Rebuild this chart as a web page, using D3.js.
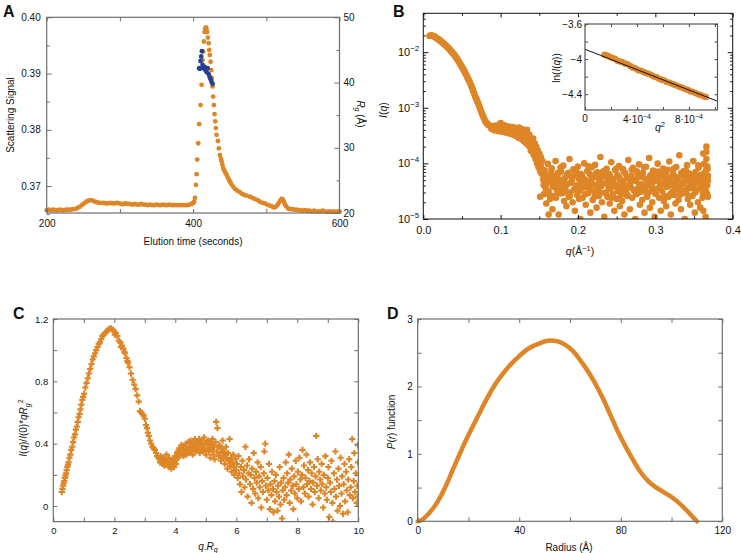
<!DOCTYPE html>
<html><head><meta charset="utf-8">
<script src="https://cdnjs.cloudflare.com/ajax/libs/d3/7.8.5/d3.min.js"></script>
<style>body{margin:0;background:#fff}svg text{font-family:"Liberation Sans",Arial,Helvetica,sans-serif;fill:#111}</style>
</head><body><svg id="c" width="741" height="553"></svg>
<script>
// ---------------- DATA ----------------
// Panel A: elution profile (time s, scattering signal)
const elutionTime=[200,203,206,209,212,215,218,221,224,227,230,233,236,239,242,245,248,251,254,257,260,263,266,269,272,275,278,281,284,287,290,293,296,299,302,305,308,311,314,317,320,323,326,329,332,335,338,341,344,347,350,353,356,359,362,365,368,371,374,377,380,383,386,389,392,395,398,400,401.5,402.5,403.8,404.8,405.6,407,408.3,410.2,411.6,413,413.8,414.7,415.7,416.5,417.5,418.2,419.2,420.2,421.2,422,422.9,423.9,424.7,425.7,426.6,427.4,428.4,429.3,430.2,431.1,432,433.9,435.2,436.6,438,438.9,440,441.1,442.5,444,445.7,447.5,449,450.2,452,454.7,457,460,463.9,467,470,473,477.6,481,484,488,491.2,495,498,501,504.9,507,510,513,515,517,519,521,522.5,524,525.3,527,529.8,532,535,538,541.3,544,547,550,553,556,559,562,565,568,571,574,577,580,583,586,589,592,595,598,600];
const scatterSignal=[.3657,.3658,.3657,.3658,.3657,.3657,.3658,.3657,.3657,.3658,.3658,.3658,.3659,.3659,.3661,.3663,.3666,.3669,.3672,.3674,.3675,.3674,.3672,.3671,.3670,.3670,.3670,.3669,.3669,.3670,.3669,.3669,.3670,.3669,.3668,.3668,.3669,.3668,.3668,.3667,.3668,.3667,.3667,.3668,.3667,.3667,.3666,.3667,.3666,.3666,.3667,.3666,.3666,.3667,.3666,.3666,.3667,.3666,.3666,.3666,.3666,.3666,.3666,.3666,.3666,.3667,.3668,.3670,.3672,.3679,.3702,.3721,.3747,.3776,.3810,.3844,.3880,.3924,.3939,.3957,.3974,.3980,.3982,.3980,.3974,.3964,.3954,.3942,.3933,.3921,.3906,.3892,.3877,.3859,.3844,.3828,.3815,.3803,.3791,.3780,.3767,.3755,.3748,.3744,.3738,.3732,.3728,.3724,.3720,.3715,.3711,.3708,.3704,.3699,.3695,.3692,.3689,.3686,.3684,.3683,.3681,.3679,.3677,.3675,.3672,.3670,.3669,.3667,.3665,.3664,.3662,.3663,.3666,.3670,.3674,.3677,.3676,.3672,.3668,.3664,.3660,.3659,.3659,.3658,.3658,.3657,.3657,.3656,.3657,.3656,.3656,.3655,.3656,.3655,.3655,.3655,.3656,.3655,.3654,.3655,.3654,.3655,.3654,.3655,.3654];
// Panel A: Rg across the peak (time s, Rg Å)
const rgTime=[408.3,409.3,410.2,411.1,412,413,414.3,415.7,417,418.4,419.8,421.2,422.5,423.9,425.2,426.6];
const rgValue=[42.2,42.1,43.3,44.0,44.8,42.7,42.2,42.4,41.9,41.6,42.2,41.3,40.9,40.5,40.1,39.8];

// Panel B: scattering curve [q (1/Å), I(q)]
const saxsLow=[[.008,.0195],[.009,.0198],[.010,.0199],[.011,.0199],[.012,.0197],[.013,.0195],[.014,.0192],[.015,.0188],[.016,.0184],[.017,.0180],[.018,.0176],[.019,.0172],[.020,.0168],[.021,.0164],[.022,.0160],[.023,.0156],[.024,.0152],[.025,.0148],[.026,.0144],[.027,.0140],[.028,.0136],[.029,.0132],[.030,.0128],[.031,.0124],[.032,.0120],[.033,.0116],[.034,.0112],[.035,.0108],[.036,.0104],[.037,.0100],[.038,.0097],[.039,.0093],[.040,.0090],[.041,.0086],[.042,.0082],[.043,.0078],[.044,.0075],[.045,.0071],[.046,.0067],[.047,.0064],[.048,.0060],[.049,.0057],[.050,.0054],[.051,.0051],[.052,.0049],[.053,.0046],[.054,.0043],[.055,.0040],[.056,.0038],[.057,.0035],[.058,.0033],[.059,.0031],[.060,.0029],[.061,.0027],[.062,.0025],[.063,.0023],[.064,.0021],[.065,.0019],[.066,.0018],[.067,.0016],[.068,.0015],[.069,.0014],[.070,.0013],[.071,.0012],[.072,.0011],[.073,.00100],[.074,.00092],[.075,.00085],[.076,.00078],[.077,.00072],[.078,.00067],[.079,.00062],[.080,.00058],[.081,.00055],[.082,.00053],[.083,.00051],[.084,.00049]];
const saxsMid=[[.086,4.8e-4],[.087,4.6e-4],[.088,4.5e-4],[.088,4.2e-4],[.089,4.4e-4],[.090,4.7e-4],[.090,4.1e-4],[.091,4.3e-4],[.092,4.6e-4],[.092,3.9e-4],[.093,4.4e-4],[.094,4.8e-4],[.094,4.0e-4],[.095,4.3e-4],[.096,4.1e-4],[.097,4.6e-4],[.097,3.8e-4],[.098,4.4e-4],[.099,5.0e-4],[.099,4.0e-4],[.100,5.3e-4],[.100,4.3e-4],[.101,3.7e-4],[.102,4.6e-4],[.102,4.1e-4],[.103,3.8e-4],[.104,4.5e-4],[.104,4.9e-4],[.105,3.9e-4],[.106,4.3e-4],[.106,3.6e-4],[.107,4.7e-4],[.108,4.0e-4],[.108,3.7e-4],[.109,4.4e-4],[.110,4.1e-4],[.110,3.5e-4],[.111,4.6e-4],[.112,3.9e-4],[.112,4.2e-4],[.113,3.4e-4],[.114,4.4e-4],[.114,3.8e-4],[.115,4.1e-4],[.116,3.3e-4],[.116,4.5e-4],[.117,3.7e-4],[.118,4.0e-4],[.118,3.2e-4],[.119,4.3e-4],[.120,3.6e-4],[.120,3.1e-4],[.121,4.1e-4],[.122,3.4e-4],[.122,3.8e-4],[.123,2.9e-4],[.124,4.4e-4],[.124,3.3e-4],[.125,3.6e-4],[.126,2.8e-4],[.126,3.9e-4],[.127,3.2e-4],[.128,4.1e-4],[.128,2.7e-4],[.129,3.4e-4],[.130,3.0e-4],[.130,2.5e-4],[.131,3.6e-4],[.132,2.7e-4],[.132,3.2e-4],[.133,2.3e-4],[.134,4.0e-4],[.134,2.6e-4],[.135,3.0e-4],[.136,2.1e-4],[.136,2.7e-4],[.137,3.3e-4],[.138,2.0e-4],[.138,2.4e-4],[.139,1.7e-4],[.140,2.8e-4],[.140,2.1e-4],[.141,1.6e-4],[.142,2.8e-4],[.142,1.9e-4],[.143,1.4e-4],[.144,2.3e-4],[.144,1.6e-4],[.145,1.2e-4],[.146,2.0e-4],[.146,1.4e-4],[.147,1.0e-4],[.148,1.7e-4],[.148,1.2e-4],[.149,8.5e-5],[.150,1.5e-4],[.150,1.0e-4],[.151,7.2e-5],[.151,2.5e-5],[.152,1.3e-4],[.152,8.8e-5],[.153,6.5e-5],[.154,1.1e-4],[.154,7.5e-5]];
const saxsHigh=[[.155,5.2e-5],[.156,2.8e-5],[.157,7.5e-5],[.158,3.6e-5],[.159,1.9e-5],[.160,4.4e-5],[.161,9.8e-5],[.162,1.2e-5],[.162,3.1e-5],[.163,6.0e-5],[.164,2.3e-5],[.165,4.9e-5],[.166,8.2e-5],[.167,1.5e-5],[.168,3.8e-5],[.169,5.7e-5],[.170,2.6e-5],[.171,1.1e-4],[.172,4.1e-5],[.173,3.3e-5],[.174,6.8e-5],[.175,1.2e-5],[.176,5.0e-5],[.177,2.9e-5],[.178,7.1e-5],[.179,4.6e-5],[.180,3.5e-5],[.181,9.1e-5],[.182,2.1e-5],[.183,5.5e-5],[.184,3.9e-5],[.185,1.7e-5],[.186,6.3e-5],[.187,4.3e-5],[.188,2.5e-5],[.189,1.2e-4],[.190,3.0e-5],[.191,5.9e-5],[.192,4.8e-5],[.193,2.0e-5],[.194,7.8e-5],[.195,3.4e-5],[.196,1.4e-5],[.197,6.6e-5],[.198,4.0e-5],[.199,2.7e-5],[.200,8.8e-5],[.201,5.3e-5],[.202,3.2e-5],[.203,1.0e-5],[.204,4.7e-5],[.205,6.1e-5],[.206,2.4e-5],[.207,3.7e-5],[.208,1.0e-4],[.209,5.1e-5],[.210,1.8e-5],[.211,4.2e-5],[.212,7.3e-5],[.213,2.9e-5],[.214,3.6e-5],[.215,6.5e-5],[.216,1.3e-5],[.217,4.5e-5],[.218,8.5e-5],[.219,2.2e-5],[.220,5.6e-5],[.221,3.1e-5],[.222,9.4e-5],[.223,4.0e-5],[.224,1.6e-5],[.225,6.9e-5],[.226,3.3e-5],[.227,2.6e-5],[.228,5.4e-5],[.229,1.3e-4],[.230,3.9e-5],[.231,2.0e-5],[.232,7.0e-5],[.233,4.4e-5],[.234,1.1e-5],[.235,5.8e-5],[.236,3.0e-5],[.237,8.0e-5],[.238,2.5e-5],[.239,4.9e-5],[.240,6.4e-5],[.241,1.9e-5],[.242,3.5e-5],[.243,1.05e-4],[.244,4.6e-5],[.245,2.8e-5],[.246,5.2e-5],[.247,1.4e-5],[.248,7.6e-5],[.249,3.8e-5],[.250,2.3e-5],[.251,6.2e-5],[.252,4.1e-5],[.253,9.0e-5],[.254,1.7e-5],[.255,5.0e-5],[.256,3.4e-5],[.257,2.1e-5],[.258,7.9e-5],[.259,4.3e-5],[.260,1.2e-5],[.261,6.7e-5],[.262,3.1e-5],[.263,5.5e-5],[.264,2.7e-5],[.265,1.15e-4],[.266,4.0e-5],[.267,1.5e-5],[.268,3.7e-5],[.269,6.0e-5],[.270,2.4e-5],[.271,8.3e-5],[.272,5.1e-5],[.273,3.2e-5],[.274,1.0e-5],[.275,4.8e-5],[.276,7.2e-5],[.277,2.9e-5],[.278,3.6e-5],[.279,9.6e-5],[.280,1.8e-5],[.281,5.7e-5],[.282,4.2e-5],[.283,2.2e-5],[.284,6.8e-5],[.285,3.3e-5],[.286,1.3e-5],[.287,5.3e-5],[.288,8.7e-5],[.289,2.6e-5],[.290,4.5e-5],[.291,3.0e-5],[.292,1.25e-4],[.293,1.6e-5],[.294,5.9e-5],[.295,3.9e-5],[.296,2.0e-5],[.297,7.4e-5],[.298,4.7e-5],[.299,1.1e-5],[.300,6.3e-5],[.301,2.8e-5],[.302,3.5e-5],[.303,9.9e-5],[.304,5.0e-5],[.305,2.4e-5],[.306,4.1e-5],[.307,1.4e-5],[.308,6.9e-5],[.309,3.2e-5],[.310,8.1e-5],[.311,2.1e-5],[.312,5.4e-5],[.313,4.4e-5],[.314,1.7e-5],[.315,3.8e-5],[.316,7.7e-5],[.317,2.5e-5],[.318,1.08e-4],[.319,4.0e-5],[.320,1.2e-5],[.321,5.8e-5],[.322,3.1e-5],[.323,6.5e-5],[.324,2.7e-5],[.325,4.6e-5],[.326,1.9e-5],[.327,8.6e-5],[.328,3.4e-5],[.329,5.2e-5],[.330,2.2e-5],[.331,1.4e-4],[.332,3.7e-5],[.333,1.5e-5],[.334,6.1e-5],[.335,4.3e-5],[.336,2.9e-5],[.337,7.3e-5],[.338,1.0e-5],[.339,5.6e-5],[.340,3.0e-5],[.341,9.3e-5],[.342,2.3e-5],[.343,4.8e-5],[.344,6.6e-5],[.345,1.8e-5],[.346,3.6e-5],[.347,5.1e-5],[.348,2.6e-5],[.349,1.1e-4],[.350,4.2e-5],[.351,1.3e-5],[.352,7.0e-5],[.353,3.3e-5],[.354,5.7e-5],[.355,2.0e-5],[.356,8.4e-5],[.357,4.5e-5],[.358,1.6e-5],[.359,6.2e-5],[.360,3.9e-5],[.361,2.4e-5],[.362,1.5e-4],[.363,5.0e-5],[.364,3.1e-5],[.365,1.1e-5],[.366,7.8e-5],[.367,4.0e-5],[.367,2.8e-5],[.366,2.0e-4],[.365,6.4e-5],[.364,3.5e-5],[.363,9.7e-5],[.362,1.4e-5],[.361,5.3e-5],[.366,1.2e-4],[.368,2.5e-5],[.368,4.9e-5],[.367,8.9e-5],[.365,3.2e-5],[.366,1.6e-4],[.368,6.0e-5]];
const saxsHigh2=[[.1555,4.1e-5],[.1575,6.2e-5],[.1595,3.3e-5],[.1615,5.4e-5],[.1635,2.7e-5],[.1655,7.0e-5],[.1675,3.9e-5],[.1695,4.8e-5],[.1715,2.4e-5],[.1735,6.1e-5],[.1755,3.6e-5],[.1775,8.4e-5],[.1795,2.9e-5],[.1815,5.0e-5],[.1835,4.3e-5],[.1855,3.1e-5],[.1875,6.8e-5],[.1895,2.6e-5],[.1915,4.5e-5],[.1935,5.8e-5],[.1955,3.4e-5],[.1975,7.6e-5],[.1995,4.0e-5],[.2015,2.3e-5],[.2035,6.4e-5],[.2055,3.8e-5],[.2075,5.2e-5],[.2095,2.8e-5],[.2115,4.6e-5],[.2135,8.9e-5],[.2155,3.5e-5],[.2175,5.6e-5],[.2195,4.2e-5],[.2215,2.5e-5],[.2235,6.6e-5],[.2255,3.7e-5],[.2275,4.9e-5],[.2295,3.0e-5],[.2315,5.9e-5],[.2335,7.3e-5],[.2355,2.9e-5],[.2375,4.4e-5],[.2395,3.6e-5],[.2415,6.0e-5],[.2435,2.4e-5],[.2455,5.1e-5],[.2475,4.0e-5],[.2495,8.1e-5],[.2515,3.2e-5],[.2535,5.5e-5],[.2555,2.7e-5],[.2575,4.7e-5],[.2595,6.9e-5],[.2615,3.9e-5],[.2635,2.6e-5],[.2655,5.3e-5],[.2675,4.3e-5],[.2695,7.7e-5],[.2715,3.4e-5],[.2735,5.0e-5],[.2755,2.8e-5],[.2775,6.3e-5],[.2795,4.1e-5],[.2815,3.1e-5],[.2835,5.7e-5],[.2855,8.5e-5],[.2875,3.8e-5],[.2895,2.5e-5],[.2915,4.6e-5],[.2935,6.1e-5],[.2955,3.3e-5],[.2975,5.4e-5],[.2995,2.9e-5],[.3015,4.9e-5],[.3035,7.1e-5],[.3055,3.6e-5],[.3075,5.8e-5],[.3095,4.2e-5],[.3115,2.6e-5],[.3135,6.5e-5],[.3155,3.9e-5],[.3175,5.1e-5],[.3195,2.8e-5],[.3215,4.4e-5],[.3235,8.0e-5],[.3255,3.5e-5],[.3275,5.6e-5],[.3295,4.0e-5],[.3315,2.7e-5],[.3335,6.7e-5],[.3355,3.2e-5],[.3375,4.8e-5],[.3395,7.4e-5],[.3415,3.7e-5],[.3435,2.5e-5],[.3455,5.3e-5],[.3475,4.1e-5],[.3495,6.2e-5],[.3515,3.0e-5],[.3535,4.7e-5],[.3555,9.2e-5],[.3575,3.6e-5],[.3595,5.5e-5],[.3615,2.9e-5],[.3635,6.8e-5],[.3655,4.3e-5],[.3675,7.9e-5]];
// Panel B inset: Guinier plot [q^2, ln I(q)] and fitted line end points
const guinier=[[1.5e-4,-3.950],[1.7e-4,-3.958],[1.9e-4,-3.972],[2.1e-4,-3.988],[2.3e-4,-3.996],[2.5e-4,-4.018],[2.7e-4,-4.027],[2.9e-4,-4.036],[3.1e-4,-4.052],[3.3e-4,-4.060],[3.5e-4,-4.082],[3.7e-4,-4.098],[3.9e-4,-4.106],[4.1e-4,-4.126],[4.3e-4,-4.132],[4.5e-4,-4.146],[4.7e-4,-4.160],[4.9e-4,-4.166],[5.1e-4,-4.182],[5.3e-4,-4.198],[5.5e-4,-4.206],[5.7e-4,-4.224],[5.9e-4,-4.236],[6.1e-4,-4.242],[6.3e-4,-4.262],[6.5e-4,-4.268],[6.7e-4,-4.282],[6.9e-4,-4.292],[7.1e-4,-4.305],[7.3e-4,-4.318],[7.5e-4,-4.326],[7.7e-4,-4.342],[7.9e-4,-4.350],[8.1e-4,-4.366],[8.3e-4,-4.374],[8.5e-4,-4.386],[8.7e-4,-4.400],[8.9e-4,-4.408],[9.1e-4,-4.424],[9.3e-4,-4.432]];
const guinierFit=[[0,-3.888],[1.02e-3,-4.48]];

// Panel C: dimensionless Kratky plot [q.Rg, I(q)/I(0)*(qRg)^2]
const kratky=[[.28,.09],[.30,.11],[.32,.13],[.34,.145],[.36,.16],[.38,.18],[.40,.195],[.42,.21],[.44,.23],[.46,.25],[.48,.265],[.50,.28],[.53,.31],[.56,.33],[.59,.36],[.62,.38],[.65,.41],[.68,.44],[.71,.46],[.74,.49],[.77,.51],[.80,.54],[.83,.57],[.86,.59],[.89,.62],[.92,.65],[.95,.68],[.98,.70],[1.01,.72],[1.05,.76],[1.09,.79],[1.13,.82],[1.17,.85],[1.21,.88],[1.25,.91],[1.29,.94],[1.33,.96],[1.37,.98],[1.41,1.00],[1.45,1.02],[1.49,1.04],[1.53,1.05],[1.57,1.07],[1.61,1.09],[1.65,1.10],[1.70,1.11],[1.75,1.12],[1.80,1.13],[1.85,1.14],[1.90,1.14],[1.95,1.13],[2.00,1.12],[2.02,1.10],[2.05,1.11],[2.10,1.09],[2.15,1.06],[2.20,1.05],[2.22,1.02],[2.25,1.03],[2.30,1.01],[2.33,.99],[2.35,.98],[2.40,.95],[2.43,.93],[2.45,.92],[2.50,.89],[2.55,.85],[2.60,.81],[2.65,.78],[2.70,.75],[2.75,.71],[2.80,.67],[2.84,.61],[2.88,.60],[2.92,.59],[2.96,.58],[3.00,.56],[3.04,.52],[3.07,.50],[3.10,.47],[3.13,.45],[3.17,.42],[3.21,.40],[3.25,.38],[3.29,.37],[3.33,.36],[3.37,.34],[3.41,.32],[3.45,.31],
[3.48,.30],[3.50,.28],[3.52,.32],[3.55,.29],[3.57,.27],[3.60,.31],[3.62,.29],[3.64,.26],[3.67,.30],[3.69,.28],[3.71,.33],[3.74,.27],[3.76,.29],[3.78,.25],[3.80,.31],[3.83,.27],[3.85,.29],[3.87,.24],[3.89,.28],[3.92,.26],[3.94,.30],[3.96,.25],[3.98,.28],[4.00,.32],[4.02,.27],[4.04,.30],[4.06,.34],
[4.08,.35],[4.10,.31],[4.13,.37],[4.15,.33],[4.17,.36],[4.20,.39],[4.22,.34],[4.24,.37],[4.27,.32],[4.29,.38],[4.31,.35],[4.34,.40],[4.36,.33],[4.38,.37],[4.41,.36],[4.43,.41],[4.45,.34],[4.48,.38],[4.50,.42],[4.52,.36],[4.55,.39],[4.57,.33],[4.59,.40],[4.62,.37],[4.64,.43],[4.66,.35],[4.69,.39],[4.71,.41],[4.73,.36],[4.76,.38],[4.78,.43],[4.80,.34],[4.83,.40],[4.85,.37],[4.87,.42],[4.90,.35],[4.92,.39],[4.94,.44],[4.97,.36],[4.99,.40],[5.01,.33],[5.04,.41],[5.06,.37],[5.08,.42],[5.11,.35],[5.13,.39],[5.15,.31],[5.18,.40],[5.20,.36],[5.22,.43],[5.25,.33],[5.27,.38],[5.29,.30],[5.32,.41],[5.34,.54],[5.36,.35],[5.38,.50],[5.41,.38],[5.43,.32],[5.45,.39],[5.48,.34],[5.50,.29],[5.52,.37],[5.55,.42],[5.57,.31],[5.59,.35],[5.62,.27],[5.64,.33],[5.66,.38],[5.69,.30],[5.71,.24],[5.73,.34],[5.76,.29],[5.78,.43],[5.80,.26],[5.83,.31],[5.85,.22],[5.87,.28],[5.90,.33],[5.92,.25],[5.94,.20],[5.97,.30],[5.99,.23],
[6.02,.27],[6.05,.18],[6.07,.32],[6.10,.21],[6.12,.14],[6.15,.25],[6.17,.09],[6.20,.29],[6.22,.19],[6.25,.23],[6.27,.12],[6.30,.38],[6.32,.17],[6.35,.26],[6.37,.06],[6.40,.21],[6.42,.30],[6.45,.14],[6.47,.20],[6.50,.02],[6.52,.24],[6.55,.11],[6.57,.34],[6.60,.18],[6.62,.08],[6.65,.22],[6.67,.15],[6.70,.28],[6.72,.05],[6.75,.19],[6.77,.12],[6.80,.25],[6.82,-.01],[6.85,.16],[6.87,.09],[6.90,.21],[6.92,.35],[6.95,.40],[6.97,.13],[7.00,.04],[7.02,.18],[7.05,.10],[7.07,.27],[7.10,-.02],[7.12,.14],[7.15,.07],[7.17,.22],[7.20,.11],[7.22,-.04],[7.25,.16],[7.27,.03],[7.30,.20],[7.32,.09],[7.35,-.03],[7.37,.13],[7.40,.06],[7.42,.25],[7.45,.01],[7.47,.15],[7.50,-.08],[7.52,.10],[7.55,.18],[7.57,.04],[7.60,.12],[7.62,.28],[7.65,.07],[7.67,.21],[7.70,.15],[7.72,.33],[7.75,.02],[7.77,.17],[7.80,.10],[7.82,.24],[7.85,.13],[7.87,-.02],[7.90,.19],[7.92,.08],[7.95,.29],[7.97,.14],[8.00,.05],[8.02,.22],[8.05,.11],[8.07,.31],[8.10,.17],[8.12,.03],[8.15,.20],[8.17,.36],[8.20,.12],[8.22,.26],[8.25,.08],[8.27,.18],[8.30,.33],[8.32,.14],[8.35,.23],[8.37,.06],[8.40,.16],[8.42,.28],[8.45,.11],[8.47,.21],[8.50,.01],[8.52,.15],[8.55,.25],[8.57,.09],[8.60,.19],[8.62,.45],[8.65,.13],[8.67,.30],[8.70,.05],[8.72,.22],[8.75,.17],[8.77,.10],[8.80,.27],[8.82,.14],[8.85,-.01],[8.87,.20],[8.90,.08],[8.92,.32],[8.95,.12],[8.97,.04],[9.00,.18],[9.02,.25],[9.05,-.07],[9.07,.15],[9.10,.09],[9.12,.29],[9.15,.02],[9.17,-.10],[9.20,.21],[9.22,.11],[9.25,.35],[9.27,.06],[9.30,.17],[9.32,-.03],[9.35,.24],[9.37,.13],[9.40,.00],[9.42,.31],[9.45,.08],[9.47,.19],[9.50,-.05],[9.52,.14],[9.55,.27],[9.57,.03],[9.60,.22],[9.62,.10],[9.65,-.04],[9.67,.17],[9.70,.30],[9.72,.07],[9.75,.12],[9.77,.25],[9.80,.43],[9.82,.05],[9.85,.16],[9.87,.34],[9.90,.09],[9.92,.21],[9.95,.02],[9.97,.13],[9.99,.28],[9.99,.39],[9.98,.06]];

// Panel D: pair distance distribution [r (Å), P(r)]
const pr=[[0,0],[2,.03],[4,.1],[6,.19],[8,.3],[10,.44],[12,.6],[14,.78],[16,.95],[18,1.12],[20,1.28],[22,1.43],[24,1.58],[27,1.8],[30,2.0],[33,2.16],[36,2.3],[40,2.45],[44,2.57],[48,2.64],[52,2.68],[55,2.67],[58,2.62],[61,2.53],[64,2.39],[67,2.23],[70,2.04],[73,1.82],[76,1.57],[79,1.32],[82,1.1],[85,.9],[88,.72],[91,.59],[94,.5],[97,.43],[100,.36],[103,.27],[106,.16],[108,.08],[110,0]];

// ticks
const ticksA_x=[200,300,400,500,600], labA_x=[200,400,600];
const ticksA_y=[.365,.37,.375,.38,.385,.39,.395,.40], labA_y=[.37,.38,.39,.40];
const ticksA_y2=[20,25,30,35,40,45,50], labA_y2=[20,30,40,50];
const ticksB_x=[0,.05,.1,.15,.2,.25,.3,.35,.4], labB_x=[0,.1,.2,.3,.4];
const labB_y=[1e-5,1e-4,1e-3,1e-2];
const ticksI_x=[0,2e-4,4e-4,6e-4,8e-4,1e-3], ticksI_y=[-3.6,-3.8,-4,-4.2,-4.4];
const ticksC_x=[0,1,2,3,4,5,6,7,8,9,10], labC_x=[0,2,4,6,8,10];
const ticksC_y=[0,.2,.4,.6,.8,1,1.2], labC_y=[0,.4,.8,1.2];
const ticksD_x=[0,20,40,60,80,100,120], labD_x=[0,40,80,120];
const ticksD_y=[0,.5,1,1.5,2,2.5,3], labD_y=[0,1,2,3];

// ---------------- DRAWING ----------------
const ORANGE="#DE8627", BLUE="#283E8E", GRAY="#6e6e6e";
const svg=d3.select("#c");
const defs=svg.append("defs");
let clipN=0;
function clip(box){const id="cl"+(clipN++);defs.append("clipPath").attr("id",id).append("rect").attr("x",box[0]).attr("y",box[2]).attr("width",box[1]-box[0]).attr("height",box[3]-box[2]);return "url(#"+id+")";}
function axis(g,fn,scale,vals,len,tr,fmt,pad,color,fs){
  const a=fn(scale).tickValues(vals).tickSize(-len).tickPadding(pad).tickFormat(fmt||(()=>""));
  const s=g.append("g").attr("transform",tr).call(a);
  s.select(".domain").remove();
  s.selectAll("line").attr("stroke",color).attr("stroke-width",1);
  s.selectAll("text").attr("font-size",fs).attr("font-family",null).attr("fill","#111");
  return s;
}
function frame(g,box,color,w){g.append("rect").attr("x",box[0]).attr("y",box[2]).attr("width",box[1]-box[0]).attr("height",box[3]-box[2]).attr("fill","none").attr("stroke",color).attr("stroke-width",w);}
function lbl(vals){return d=>vals.some(v=>Math.abs(v-d)<1e-9)?d:"";}

// ===== Panel A =====
{
const box=[46.7,339.5,17.3,213];
const g=svg.append("g");
const x=d3.scaleLinear().domain([200,600]).range([box[0],box[1]]);
const y=d3.scaleLinear().domain([0.3652,0.40]).range([box[3],box[2]]);
const y2=d3.scaleLinear().domain([20,50]).range([box[3],box[2]]);
const pg=g.append("g").attr("clip-path",clip([box[0]-3,box[1]+3,box[2]-3,box[3]+3]));
pg.selectAll(null).data(elutionTime).join("circle").attr("cx",(d)=>x(d)).attr("cy",(d,i)=>y(scatterSignal[i])).attr("r",2.4).attr("fill",ORANGE);
pg.selectAll(null).data(rgTime).join("circle").attr("cx",d=>x(d)).attr("cy",(d,i)=>y2(rgValue[i])).attr("r",2.4).attr("fill",BLUE);
axis(g,d3.axisBottom,x,ticksA_x,4,`translate(0,${box[3]})`,lbl(labA_x),7,GRAY,10);
axis(g,d3.axisTop,x,ticksA_x,4,`translate(0,${box[2]})`,null,3,GRAY,10);
axis(g,d3.axisLeft,y,labA_y,5,`translate(${box[0]},0)`,d=>d3.format(".2f")(d),6,GRAY,10);
axis(g,d3.axisLeft,y,ticksA_y.filter(v=>!labA_y.includes(v)),3,`translate(${box[0]},0)`,null,6,GRAY,10);
axis(g,d3.axisRight,y2,labA_y2,5,`translate(${box[1]},0)`,d=>d,4,GRAY,10);
axis(g,d3.axisRight,y2,ticksA_y2.filter(v=>!labA_y2.includes(v)),3,`translate(${box[1]},0)`,null,4,GRAY,10);
frame(g,box,GRAY,1.2);
g.append("text").attr("x",3).attr("y",17).attr("font-size",16).attr("font-weight","bold").text("A");
g.append("text").attr("transform","translate(14,115) rotate(-90)").attr("text-anchor","middle").attr("font-size",10).text("Scattering Signal");
g.append("text").attr("x",193).attr("y",245).attr("text-anchor","middle").attr("font-size",10).text("Elution time (seconds)");
const t=g.append("text").attr("transform","translate(357,114) rotate(90)").attr("text-anchor","middle").attr("font-size",10);
t.append("tspan").attr("font-style","italic").text("R");
t.append("tspan").attr("font-style","italic").attr("font-size",7).attr("dy",2.5).text("g");
t.append("tspan").attr("dy",-2.5).text(" (Å)");
}

// ===== Panel B =====
{
const box=[423.3,732.7,13.3,219];
const g=svg.append("g");
const x=d3.scaleLinear().domain([0,0.4]).range([box[0],box[1]]);
const y=d3.scaleLog().domain([1e-5,0.05]).range([box[3],box[2]]);
const pg=g.append("g").attr("clip-path",clip(box));
const all=saxsLow.concat(saxsMid,saxsHigh,saxsHigh2);
pg.selectAll(null).data(all).join("circle").attr("cx",d=>x(d[0])).attr("cy",d=>y(d[1])).attr("r",3.3).attr("fill",ORANGE);
const minor=[];[1e-5,1e-4,1e-3,1e-2].forEach(b=>{for(let k=2;k<=9;k++){const v=b*k;if(v<=0.05)minor.push(v);}});
axis(g,d3.axisBottom,x,labB_x,4,`translate(0,${box[3]})`,d=>d3.format(".1f")(d),7,"#111",11);
axis(g,d3.axisBottom,x,ticksB_x.filter(v=>!labB_x.includes(v)),2.5,`translate(0,${box[3]})`,null,7,"#111",11);
axis(g,d3.axisTop,x,labB_x,4,`translate(0,${box[2]})`,null,3,"#111",11);
axis(g,d3.axisTop,x,ticksB_x.filter(v=>!labB_x.includes(v)),2.5,`translate(0,${box[2]})`,null,3,"#111",11);
axis(g,d3.axisLeft,y,labB_y,5,`translate(${box[0]},0)`,null,4,"#111",11);
axis(g,d3.axisLeft,y,minor,2.5,`translate(${box[0]},0)`,null,4,"#111",11);
axis(g,d3.axisRight,y,labB_y,5,`translate(${box[1]},0)`,null,4,"#111",11);
axis(g,d3.axisRight,y,minor,2.5,`translate(${box[1]},0)`,null,4,"#111",11);
frame(g,box,"#111",1);
labB_y.forEach(v=>{const e=Math.round(Math.log10(v));
  const t=g.append("text").attr("x",box[0]-4).attr("y",y(v)+4).attr("text-anchor","end").attr("font-size",11);
  t.append("tspan").text("10");t.append("tspan").attr("dy",-5).attr("font-size",8).text("−"+(-e));});
g.append("text").attr("x",393).attr("y",17).attr("font-size",16).attr("font-weight","bold").text("B");
const ty=g.append("text").attr("transform","translate(387,110) rotate(-90)").attr("text-anchor","middle").attr("font-size",10.5);
ty.append("tspan").attr("font-style","italic").text("I");ty.append("tspan").text("(");ty.append("tspan").attr("font-style","italic").text("q");ty.append("tspan").text(")");
const tx=g.append("text").attr("x",580).attr("y",255).attr("text-anchor","middle").attr("font-size",10.5);
tx.append("tspan").attr("font-style","italic").text("q");tx.append("tspan").text("(Å");tx.append("tspan").attr("dy",-4).attr("font-size",7.5).text("−1");tx.append("tspan").attr("dy",4).text(")");

// inset
const ib=[585,717.5,24,110];
const ix=d3.scaleLinear().domain([0,1.02e-3]).range([ib[0],ib[1]]);
const iy=d3.scaleLinear().domain([-4.58,-3.6]).range([ib[3],ib[2]]);
g.append("rect").attr("x",ib[0]).attr("y",ib[2]).attr("width",ib[1]-ib[0]).attr("height",ib[3]-ib[2]).attr("fill","#fff");
const ig=g.append("g").attr("clip-path",clip(ib));
ig.selectAll(null).data(guinier).join("circle").attr("cx",d=>ix(d[0])).attr("cy",d=>iy(d[1])).attr("r",3.2).attr("fill",ORANGE);
ig.append("path").datum(guinierFit).attr("d",d3.line().x(d=>ix(d[0])).y(d=>iy(d[1]))).attr("stroke","#111").attr("stroke-width",1).attr("fill","none");
axis(g,d3.axisBottom,ix,ticksI_x,3,`translate(0,${ib[3]})`,null,4,"#444",10);
axis(g,d3.axisTop,ix,ticksI_x,3,`translate(0,${ib[2]})`,null,4,"#444",10);
axis(g,d3.axisLeft,iy,ticksI_y,3,`translate(${ib[0]},0)`,d=>[-3.6,-4,-4.4].some(v=>Math.abs(v-d)<1e-9)?(d===-4?"−4":"−"+Math.abs(d)):"",3,"#444",10);
axis(g,d3.axisRight,iy,ticksI_y,3,`translate(${ib[1]},0)`,null,4,"#444",10);
frame(g,ib,"#555",1.2);
g.append("text").attr("x",ix(0)).attr("y",122).attr("text-anchor","middle").attr("font-size",10).text("0");
[4e-4,8e-4].forEach(v=>{const t=g.append("text").attr("x",ix(v)).attr("y",123).attr("text-anchor","middle").attr("font-size",10);
  t.append("tspan").text(Math.round(v*1e4)+"·10");t.append("tspan").attr("dy",-4).attr("font-size",7).text("−4");});
const iq=g.append("text").attr("x",660).attr("y",131).attr("text-anchor","middle").attr("font-size",10.5);
iq.append("tspan").attr("font-style","italic").text("q");iq.append("tspan").attr("dy",-4).attr("font-size",7.5).text("2");
const il=g.append("text").attr("transform","translate(560,68) rotate(-90)").attr("text-anchor","middle").attr("font-size",10);
il.append("tspan").text("ln(");il.append("tspan").attr("font-style","italic").text("I");il.append("tspan").text("(");il.append("tspan").attr("font-style","italic").text("q");il.append("tspan").text("))");
}

// ===== Panel C =====
{
const box=[53.3,358.3,319,521.6];
const g=svg.append("g");
const x=d3.scaleLinear().domain([0,10]).range([box[0],box[1]]);
const y=d3.scaleLinear().domain([-0.1,1.2]).range([box[3],box[2]]);
const pg=g.append("g").attr("clip-path",clip(box));
const sym=d3.symbol().type(d3.symbolCross).size(22);
pg.selectAll(null).data(kratky).join("path").attr("d",sym).attr("transform",d=>`translate(${x(d[0])},${y(d[1])})`).attr("fill",ORANGE);
axis(g,d3.axisBottom,x,ticksC_x,4,`translate(0,${box[3]})`,lbl(labC_x),6,GRAY,9.5);
axis(g,d3.axisTop,x,ticksC_x,4,`translate(0,${box[2]})`,null,3,GRAY,9.5);
axis(g,d3.axisLeft,y,ticksC_y,4,`translate(${box[0]},0)`,d=>labC_y.some(v=>Math.abs(v-d)<1e-9)?(d===0?"0":d3.format(".1f")(d)):"",5,GRAY,9.5);
axis(g,d3.axisRight,y,ticksC_y,4,`translate(${box[1]},0)`,null,3,GRAY,9.5);
frame(g,box,GRAY,1.2);
g.append("text").attr("x",13).attr("y",319).attr("font-size",16).attr("font-weight","bold").text("C");
const tx=g.append("text").attr("x",208).attr("y",550).attr("text-anchor","middle").attr("font-size",10);
tx.append("tspan").attr("font-style","italic").text("q");tx.append("tspan").text(".");tx.append("tspan").attr("font-style","italic").text("R");tx.append("tspan").attr("font-style","italic").attr("font-size",7).attr("dy",2).text("g");
const ty=g.append("text").attr("transform","translate(27,428) rotate(-90)").attr("text-anchor","middle").attr("font-size",10);
ty.append("tspan").attr("font-style","italic").text("I");ty.append("tspan").text("(");ty.append("tspan").attr("font-style","italic").text("q");ty.append("tspan").text(")/");
ty.append("tspan").attr("font-style","italic").text("I");ty.append("tspan").text("(0)*");ty.append("tspan").attr("font-style","italic").text("qR");
ty.append("tspan").attr("font-style","italic").attr("font-size",7).attr("dy",2.5).text("g");ty.append("tspan").attr("font-size",7).attr("dy",-7).text("2");
}

// ===== Panel D =====
{
const box=[417.7,722.3,319,521.3];
const g=svg.append("g");
const x=d3.scaleLinear().domain([0,120]).range([box[0],box[1]]);
const y=d3.scaleLinear().domain([0,3]).range([box[3],box[2]]);
g.append("path").datum(pr).attr("d",d3.line().x(d=>x(d[0])).y(d=>y(d[1])).curve(d3.curveMonotoneX)).attr("fill","none").attr("stroke",ORANGE).attr("stroke-width",4.5).attr("stroke-linecap","round");
axis(g,d3.axisBottom,x,ticksD_x,4,`translate(0,${box[3]})`,lbl(labD_x),6,GRAY,10);
axis(g,d3.axisTop,x,ticksD_x,4,`translate(0,${box[2]})`,null,3,GRAY,10);
axis(g,d3.axisLeft,y,ticksD_y,4,`translate(${box[0]},0)`,lbl(labD_y),5,GRAY,10);
axis(g,d3.axisRight,y,ticksD_y,4,`translate(${box[1]},0)`,null,3,GRAY,10);
frame(g,box,GRAY,1.2);
g.append("text").attr("x",387).attr("y",319).attr("font-size",16).attr("font-weight","bold").text("D");
g.append("text").attr("x",569).attr("y",551).attr("text-anchor","middle").attr("font-size",10).text("Radius (Å)");
const ty=g.append("text").attr("transform","translate(395,422) rotate(-90)").attr("text-anchor","middle").attr("font-size",10);
ty.append("tspan").attr("font-style","italic").text("P");ty.append("tspan").text("(");ty.append("tspan").attr("font-style","italic").text("r");ty.append("tspan").text(") function");
}
</script></body></html>
